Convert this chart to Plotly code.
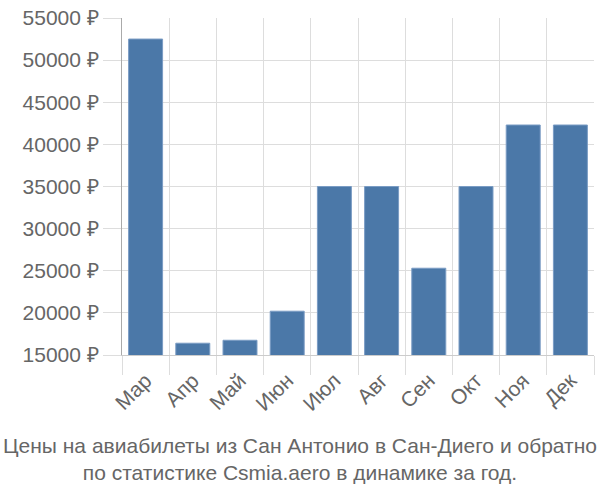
import plotly.graph_objects as go

months = ["Мар", "Апр", "Май", "Июн", "Июл", "Авг", "Сен", "Окт", "Ноя", "Дек"]
prices = [52500, 16400, 16750, 20200, 35000, 35000, 25300, 35000, 42300, 42300]
y_ticks = [15000, 20000, 25000, 30000, 35000, 40000, 45000, 50000, 55000]
y_tick_text = [f"{v} ₽" for v in y_ticks]
title_lines = ["Цены на авиабилеты из Сан Антонио в Сан-Диего и обратно",
               "по статистике Csmia.aero в динамике за год."]

fig = go.Figure(go.Bar(
    x=months, y=prices,
    marker=dict(color="#4b78a8", line=dict(color="#7a9cc4", width=1)),
))

font = dict(family="Liberation Sans, Arial, sans-serif", size=21, color="#666666")

fig.update_layout(
    width=600, height=500,
    margin=dict(l=122, r=6, t=12, b=145),
    plot_bgcolor="white", paper_bgcolor="white",
    bargap=0.28,
    showlegend=False,
    font=font,
    xaxis=dict(
        type="category", tickson="boundaries", showgrid=True, gridcolor="#dddddd",
        ticks="outside", ticklen=19, tickcolor="#dddddd", tickangle=-45,
        showline=True, linecolor="#cccccc", tickfont=font, ticklabelstandoff=4,
    ),
    yaxis=dict(
        range=[15000, 55000], tickvals=y_ticks, ticktext=y_tick_text,
        showgrid=True, gridcolor="#dddddd", ticks="outside", ticklen=18,
        tickcolor="#dddddd", showline=True, linecolor="#aaaaaa", zeroline=False,
        tickfont=font,
    ),
    title=dict(
        text="<br>".join(title_lines), xref="container", yref="container",
        x=0.5, xanchor="center", y=0.095, yanchor="top",
        font=dict(family="Liberation Sans, Arial, sans-serif", size=21, color="#666666"),
    ),
)
fig.write_html("out.html")
